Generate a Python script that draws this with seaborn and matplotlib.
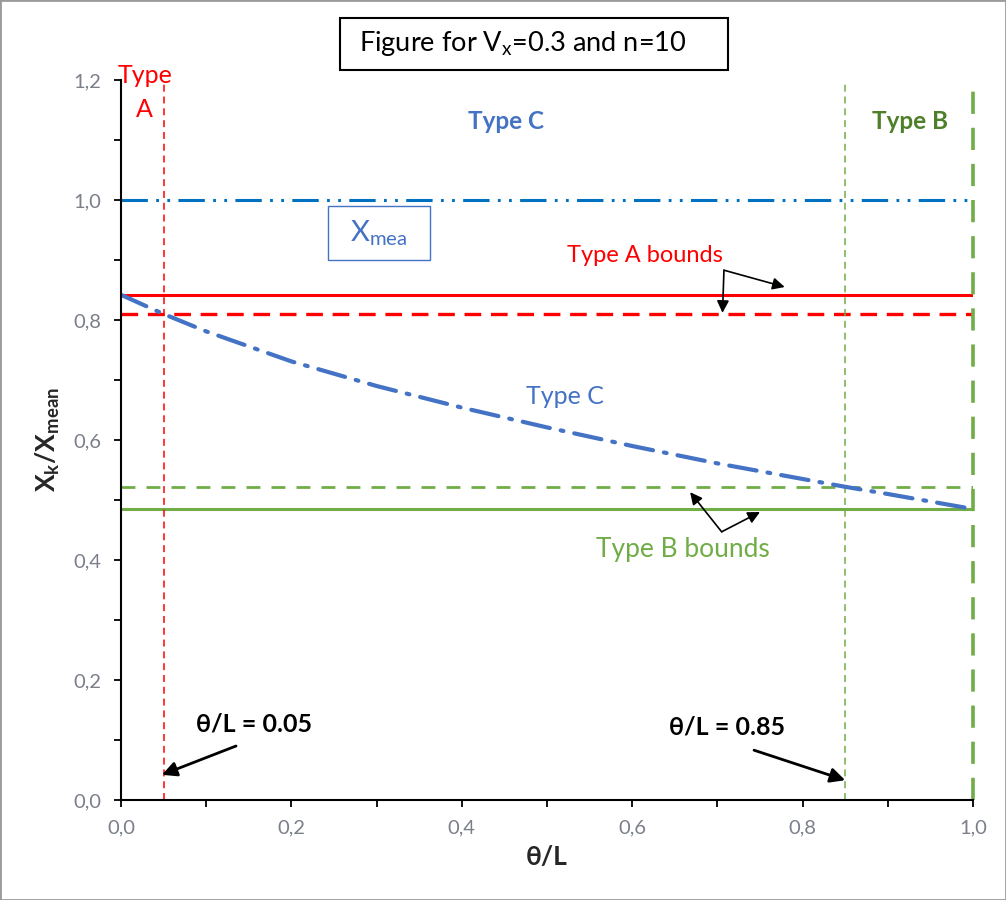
import matplotlib
matplotlib.use("Agg")
import matplotlib.pyplot as plt
from matplotlib.patches import Rectangle
from matplotlib.ticker import MultipleLocator, FuncFormatter
import seaborn as sns
import pandas as pd

sns.set_style("white")
plt.rcParams['font.family'] = ['Lato', 'DejaVu Sans']
plt.rcParams['mathtext.fontset'] = 'custom'
plt.rcParams['mathtext.rm'] = 'Lato'
plt.rcParams['mathtext.it'] = 'Lato:italic'
plt.rcParams['mathtext.bf'] = 'Lato:bold'
plt.rcParams['lines.scale_dashes'] = False

# ---- data ----
theta = [0.0, 0.05, 0.1, 0.2, 0.3, 0.4, 0.5, 0.6, 0.7, 0.8, 0.85, 0.9, 1.0]
type_c = [0.842, 0.810, 0.781, 0.731, 0.690, 0.654, 0.621, 0.590, 0.561, 0.535, 0.522, 0.510, 0.485]
x_span = [0.0, 1.0]
x_mean_level = 1.0
type_a_upper = 0.842
type_a_lower = 0.810
type_b_upper = 0.522
type_b_lower = 0.485
theta_a = 0.05
theta_b = 0.85
theta_end = 1.0

RED = '#FF0000'
GREEN = '#70AD47'
DGREEN = '#4F7F2A'
BLUE = '#4472C4'
BLUE2 = '#0070C0'

fig = plt.figure(figsize=(10.06, 9.0), dpi=100)
ax = fig.add_axes([121/1006, 1-800/900, 852/1006, 720/900])

def hline(y, color, lw, dashes=None):
    df = pd.DataFrame({'x': x_span, 'y': [y, y]})
    sns.lineplot(data=df, x='x', y='y', ax=ax, color=color, linewidth=lw)
    line = ax.lines[-1]
    if dashes:
        line.set_dashes(dashes)
    line.set_solid_capstyle('butt')
    line.set_dash_capstyle('butt')

def vline(x, color, lw, dashes):
    df = pd.DataFrame({'x': [x, x], 'y': [0.0, 1.2]})
    sns.lineplot(data=df, x='x', y='y', ax=ax, color=color, linewidth=lw,
                 estimator=None, sort=False, orient='y')
    line = ax.lines[-1]
    line.set_dashes(dashes)
    line.set_dash_capstyle('butt')
    line.set_clip_on(False)

# horizontal reference lines
hline(x_mean_level, BLUE2, 2.2, (19, 6, 2, 6, 2, 6))
hline(type_a_upper, RED, 2.2)
hline(type_a_lower, RED, 2.4, (12, 7))
hline(type_b_upper, GREEN, 2.0, (10, 8))
hline(type_b_lower, GREEN, 2.2)

# vertical lines
vline(theta_a, RED, 1.1, (5, 3.5))
vline(theta_b, GREEN, 1.1, (5, 3.5))
vline(theta_end, GREEN, 2.6, (16, 10))

# Type C curve
df_c = pd.DataFrame({'theta': theta, 'ratio': type_c})
sns.lineplot(data=df_c, x='theta', y='ratio', ax=ax, color=BLUE, linewidth=3.0)
ax.lines[-1].set_dashes((20, 8, 2, 8))
ax.lines[-1].set_dash_capstyle('round')

ax.set_xlim(0, 1.0)
ax.set_ylim(0, 1.2)
ax.xaxis.set_major_locator(MultipleLocator(0.2))
ax.xaxis.set_minor_locator(MultipleLocator(0.1))
ax.yaxis.set_major_locator(MultipleLocator(0.2))
ax.yaxis.set_minor_locator(MultipleLocator(0.1))
fmt = FuncFormatter(lambda v, p: f"{v:.1f}".replace('.', ','))
ax.xaxis.set_major_formatter(fmt)
ax.yaxis.set_major_formatter(fmt)
ax.tick_params(axis='both', which='both', direction='out', length=5, width=1.3,
               color='black', bottom=True, left=True)
ax.tick_params(axis='both', which='major', labelsize=14.5, labelcolor='#7a7f8a', pad=9)
for s in ['top', 'right']:
    ax.spines[s].set_visible(False)
for s in ['left', 'bottom']:
    ax.spines[s].set_color('black')
    ax.spines[s].set_linewidth(1.5)

ax.set_xlabel('θ/L', fontsize=19, fontweight='bold', labelpad=6)
ax.set_ylabel(r'$\mathbf{X_k/X_{mean}}$', fontsize=19, labelpad=8)

# annotations
ax.text(0.028, 1.208, 'Type', color=RED, fontsize=18, ha='center', va='center')
ax.text(0.028, 1.150, 'A', color=RED, fontsize=18, ha='center', va='center')
ax.text(0.452, 1.13, 'Type C', color=BLUE, fontsize=17.5, fontweight='bold', ha='center', va='center')
ax.text(0.926, 1.13, 'Type B', color=DGREEN, fontsize=17.5, fontweight='bold', ha='center', va='center')

ax.add_patch(Rectangle((0.243, 0.90), 0.120, 0.09, fill=False, edgecolor=BLUE, lw=1.0))
ax.text(0.303, 0.945, r'X$_{\mathrm{mea}}$', color=BLUE, fontsize=21, ha='center', va='center')

ax.text(0.615, 0.908, 'Type A bounds', color=RED, fontsize=17, ha='center', va='center')
ax.annotate('', xy=(0.779, 0.855), xytext=(0.7077, 0.883),
            arrowprops=dict(arrowstyle='-|>', color='black', lw=1.2, mutation_scale=18, shrinkA=0, shrinkB=0))
ax.annotate('', xy=(0.706, 0.812), xytext=(0.7077, 0.883),
            arrowprops=dict(arrowstyle='-|>', color='black', lw=1.2, mutation_scale=18, shrinkA=0, shrinkB=0))

ax.text(0.521, 0.672, 'Type C', color=BLUE, fontsize=18, ha='center', va='center')

ax.text(0.660, 0.417, 'Type B bounds', color=GREEN, fontsize=19, ha='center', va='center')
ax.annotate('', xy=(0.668, 0.513), xytext=(0.705, 0.447),
            arrowprops=dict(arrowstyle='-|>', color='black', lw=1.2, mutation_scale=18, shrinkA=0, shrinkB=0))
ax.annotate('', xy=(0.750, 0.480), xytext=(0.705, 0.447),
            arrowprops=dict(arrowstyle='-|>', color='black', lw=1.2, mutation_scale=18, shrinkA=0, shrinkB=0))

ax.text(0.156, 0.127, 'θ/L = 0.05', color='black', fontsize=18, fontweight='bold', ha='center', va='center')
ax.annotate('', xy=(0.048, 0.042), xytext=(0.135, 0.09),
            arrowprops=dict(arrowstyle='-|>', color='black', lw=2.0, mutation_scale=22, shrinkA=0, shrinkB=0))
ax.text(0.711, 0.122, 'θ/L = 0.85', color='black', fontsize=18, fontweight='bold', ha='center', va='center')
ax.annotate('', xy=(0.850, 0.033), xytext=(0.743, 0.083),
            arrowprops=dict(arrowstyle='-|>', color='black', lw=2.0, mutation_scale=22, shrinkA=0, shrinkB=0))

# title box
fig.patches.append(Rectangle((340/1006, 1-70/900), 388/1006, 52/900, transform=fig.transFigure,
                             fill=False, edgecolor='black', lw=1.5))
fig.text(523/1006, 1-44/900, r'Figure for V$_\mathrm{x}$=0.3 and n=10', fontsize=19.5,
         ha='center', va='center', color='black')

# outer border
fig.patches.append(Rectangle((0, 0), 1, 1, transform=fig.transFigure, fill=False,
                             edgecolor='#9a9a9a', lw=2))

fig.savefig('out.png', dpi=100)
